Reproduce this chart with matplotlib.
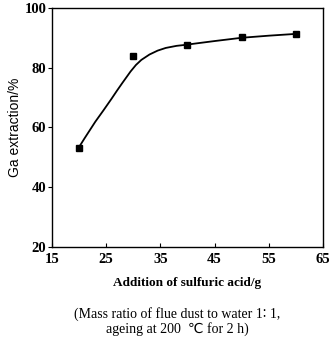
import numpy as np
import matplotlib
matplotlib.use('Agg')
import matplotlib.pyplot as plt

# measured points
acid_g = [20, 30, 40, 50, 60]
ga_extraction = [53.2, 83.9, 87.7, 90.2, 91.3]

# fitted curve
curve_x = [20, 21, 22, 23, 24.5, 26, 27, 28, 29.5, 30.5, 31.5, 33, 34.5, 36, 38, 39.5, 42, 45, 50, 55, 60]
curve_y = [53.4, 56.3, 59.1, 61.9, 65.7, 69.6, 72.3, 74.9, 78.7, 80.9, 82.6, 84.4, 85.7, 86.6, 87.3, 87.6, 88.2, 88.9, 90.0, 90.7, 91.3]

x_ticks = [15, 25, 35, 45, 55, 65]
y_ticks = [20, 40, 60, 80, 100]

serif = ['Liberation Serif', 'DejaVu Sans']

fig = plt.figure(figsize=(3.35, 3.43), dpi=100)
ax = fig.add_axes([0.155, 0.28, 0.809, 0.697])

ax.plot(curve_x, curve_y, color='black', lw=1.3)
ax.plot(acid_g, ga_extraction, 's', color='black', ms=4)

ax.set_xlim(15, 65)
ax.set_ylim(20, 100)
ax.set_xticks(x_ticks)
ax.set_yticks(y_ticks)
ax.tick_params(axis='x', direction='in', length=3, width=0.8, pad=4)
ax.tick_params(axis='y', direction='out', length=3, width=0.8, pad=1)
for lab in ax.get_xticklabels() + ax.get_yticklabels():
    lab.set_family(serif)
    lab.set_fontsize(10.5)
    lab.set_fontweight('bold')
for s in ax.spines.values():
    s.set_linewidth(1.0)

ax.set_xlabel('Addition of sulfuric acid/g', family=serif, fontsize=9.5, fontweight='bold', labelpad=8)
ax.set_ylabel('Ga extraction/%', family=['Liberation Sans', 'DejaVu Sans'], fontsize=10, labelpad=2)

fig.text(0.53, 0.062, '(Mass ratio of flue dust to water 1\u2236 1,\nageing at 200  \u2103 for 2 h)',
         ha='center', va='center', family=serif, fontsize=10, linespacing=1.05)

fig.savefig('out.png', dpi=100)
